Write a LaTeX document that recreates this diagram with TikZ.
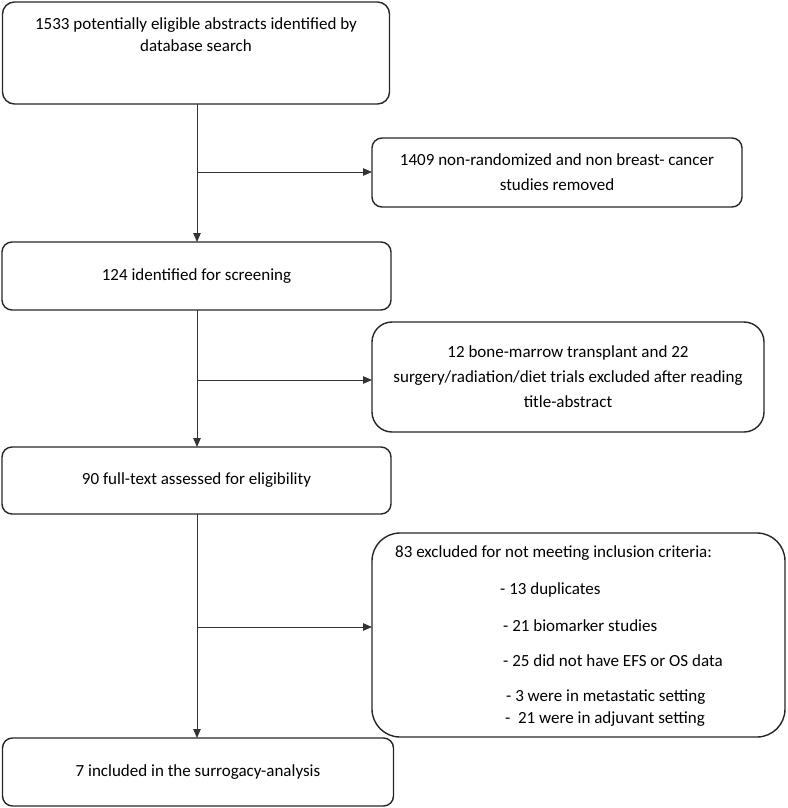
\documentclass[tikz,border=0pt]{standalone}
\usepackage{fontspec}
\setmainfont{Carlito}
\usetikzlibrary{arrows.meta}
\begin{document}
\begin{tikzpicture}[x=1pt,y=-1pt,
  box/.style={draw=black!85, line width=1.4pt, inner sep=0pt, outer sep=0pt, align=center,
    font=\fontsize{17}{25}\selectfont, text=black},
  txt/.style={inner sep=0pt, font=\fontsize{17}{22}\selectfont, text=black},
  conn/.style={draw=black!80, line width=1pt},
  arr/.style={conn, -{Triangle[length=9pt,width=7.5pt]}}]
\useasboundingbox (0,0) rectangle (787,808);
% left column
\node[box, minimum width=387pt, minimum height=102pt, rounded corners=12pt] (A) at (196,53) {};
\node[txt, align=center] (Atxt) at (196,35) {1533 potentially eligible abstracts identified by\\database search};
\node[box, minimum width=389pt, minimum height=68pt, rounded corners=10pt] (C) at (196.5,276) {124 identified for screening};
\node[box, minimum width=389pt, minimum height=67pt, rounded corners=10pt] (E) at (196.5,480.5) {90 full-text assessed for eligibility};
\node[box, minimum width=391pt, minimum height=68pt, rounded corners=10pt] (G) at (198,772) {7 included in the surrogacy-analysis};
% right column
\node[box, minimum width=370pt, minimum height=69pt, rounded corners=10pt] (B) at (557,172.5) {1409 non-randomized and non breast- cancer\\studies removed};
\node[box, minimum width=392pt, minimum height=110pt, rounded corners=20pt] (D) at (568,377) {12 bone-marrow transplant and 22\\surgery/radiation/diet trials excluded after reading\\title-abstract};
\node[box, minimum width=413pt, minimum height=204pt, rounded corners=28pt] (F) at (578.5,635) {};
\node[txt, anchor=west] (F0) at (395,553) {83 excluded for not meeting inclusion criteria:};
\node[txt, anchor=west] (F1) at (500,590) {- 13 duplicates};
\node[txt, anchor=west] (F2) at (503,626) {- 21 biomarker studies};
\node[txt, anchor=west] (F3) at (503,661) {- 25 did not have EFS or OS data};
\node[txt, anchor=west] (F4) at (506,697) {- 3 were in metastatic setting};
\node[txt, anchor=west] (F5) at (505,719) {-\ \ 21 were in adjuvant setting};
% junctions
\coordinate (j1) at (197,172);
\coordinate (j2) at (197,380);
\coordinate (j3) at (197,627);
% connectors
\draw[arr] (A.south -| j1) -- (C.north -| j1);
\draw[arr] (j1) -- (j1 -| B.west);
\draw[arr] (C.south -| j2) -- (E.north -| j2);
\draw[arr] (j2) -- (j2 -| D.west);
\draw[arr] (E.south -| j3) -- (G.north -| j3);
\draw[arr] (j3) -- (j3 -| F.west);
\end{tikzpicture}
\end{document}
